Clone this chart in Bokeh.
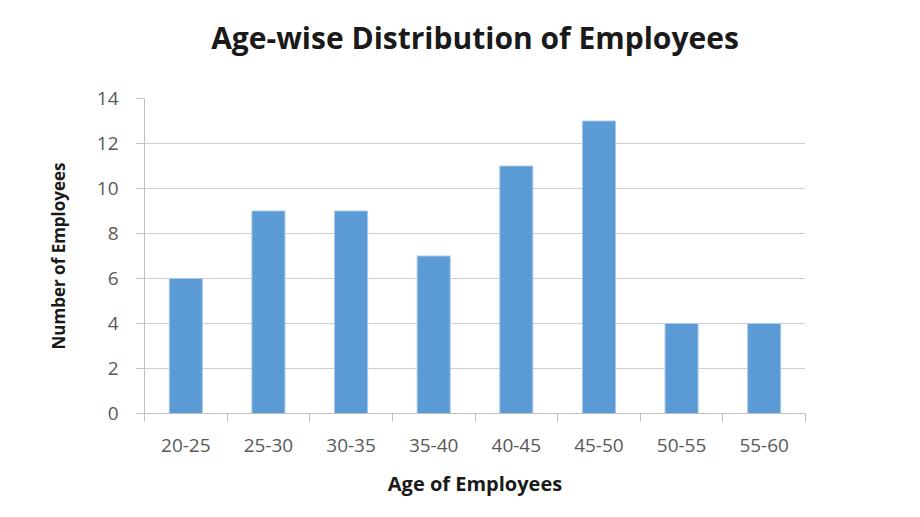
from bokeh.plotting import figure
from bokeh.models import FixedTicker, Range1d, ColumnDataSource, Title
from bokeh.embed import file_html
from bokeh.resources import INLINE

title_text = "Age-wise Distribution of Employees"
age_groups = ["20-25", "25-30", "30-35", "35-40", "40-45", "45-50", "50-55", "55-60"]
employees = [6, 9, 9, 7, 11, 13, 4, 4]
y_ticks = [0, 2, 4, 6, 8, 10, 12, 14]

n = len(age_groups)
centers = [i + 0.5 for i in range(n)]
source = ColumnDataSource(dict(x=centers, top=employees, label=age_groups))

p = figure(width=912, height=509, output_backend="svg", toolbar_location=None,
           x_range=Range1d(0, n), y_range=Range1d(0, 14),
           min_border_left=144, min_border_right=107,
           min_border_top=98, min_border_bottom=96)
p.title = None
p.outline_line_color = None
p.background_fill_color = "white"
p.border_fill_color = "white"

# spacer between frame and title
spacer = Title(text=" ", text_font_size="1px", standoff=38)
p.add_layout(spacer, "above")

main_title = Title(text=title_text, align="center", vertical_align="bottom",
                   text_font="Open Sans", text_font_size="30px",
                   text_font_style="bold", text_color="#1a1a1a", standoff=0)
p.add_layout(main_title, "above")

p.vbar(x="x", top="top", width=0.4, source=source,
       fill_color="#5b9bd5", line_color="#a9c8ea", line_width=1)

# x axis
xa = p.xaxis[0]
xa.ticker = FixedTicker(ticks=centers, minor_ticks=list(range(n + 1)))
xa.major_label_overrides = {c: lab for c, lab in zip(centers, age_groups)}
xa.major_tick_line_color = None
xa.minor_tick_in = 0
xa.minor_tick_out = 8
xa.minor_tick_line_color = "#bfbfbf"
xa.axis_line_color = "#bfbfbf"
xa.major_label_text_font = "Open Sans"
xa.major_label_text_font_size = "19px"
xa.major_label_text_color = "#595959"
xa.major_label_standoff = 17
xa.axis_label = "Age of Employees"
xa.axis_label_text_font = "Open Sans"
xa.axis_label_text_font_size = "20px"
xa.axis_label_text_font_style = "bold"
xa.axis_label_text_color = "#1a1a1a"
xa.axis_label_standoff = 15

# y axis
ya = p.yaxis[0]
ya.ticker = FixedTicker(ticks=y_ticks)
ya.major_tick_in = 0
ya.major_tick_out = 8
ya.major_tick_line_color = "#bfbfbf"
ya.minor_tick_line_color = None
ya.axis_line_color = "#bfbfbf"
ya.major_label_text_font = "Open Sans"
ya.major_label_text_font_size = "19px"
ya.major_label_text_color = "#595959"
ya.major_label_standoff = 18
ya.axis_label = "Number of Employees"
ya.axis_label_text_font = "Open Sans"
ya.axis_label_text_font_size = "17px"
ya.axis_label_text_font_style = "bold"
ya.axis_label_text_color = "#1a1a1a"
ya.axis_label_standoff = 24

p.xgrid.grid_line_color = None
p.ygrid.ticker = FixedTicker(ticks=y_ticks)
p.ygrid.grid_line_color = "#d0d0d0"
p.ygrid.grid_line_width = 1

open("out.html", "w").write(file_html(p, INLINE))
